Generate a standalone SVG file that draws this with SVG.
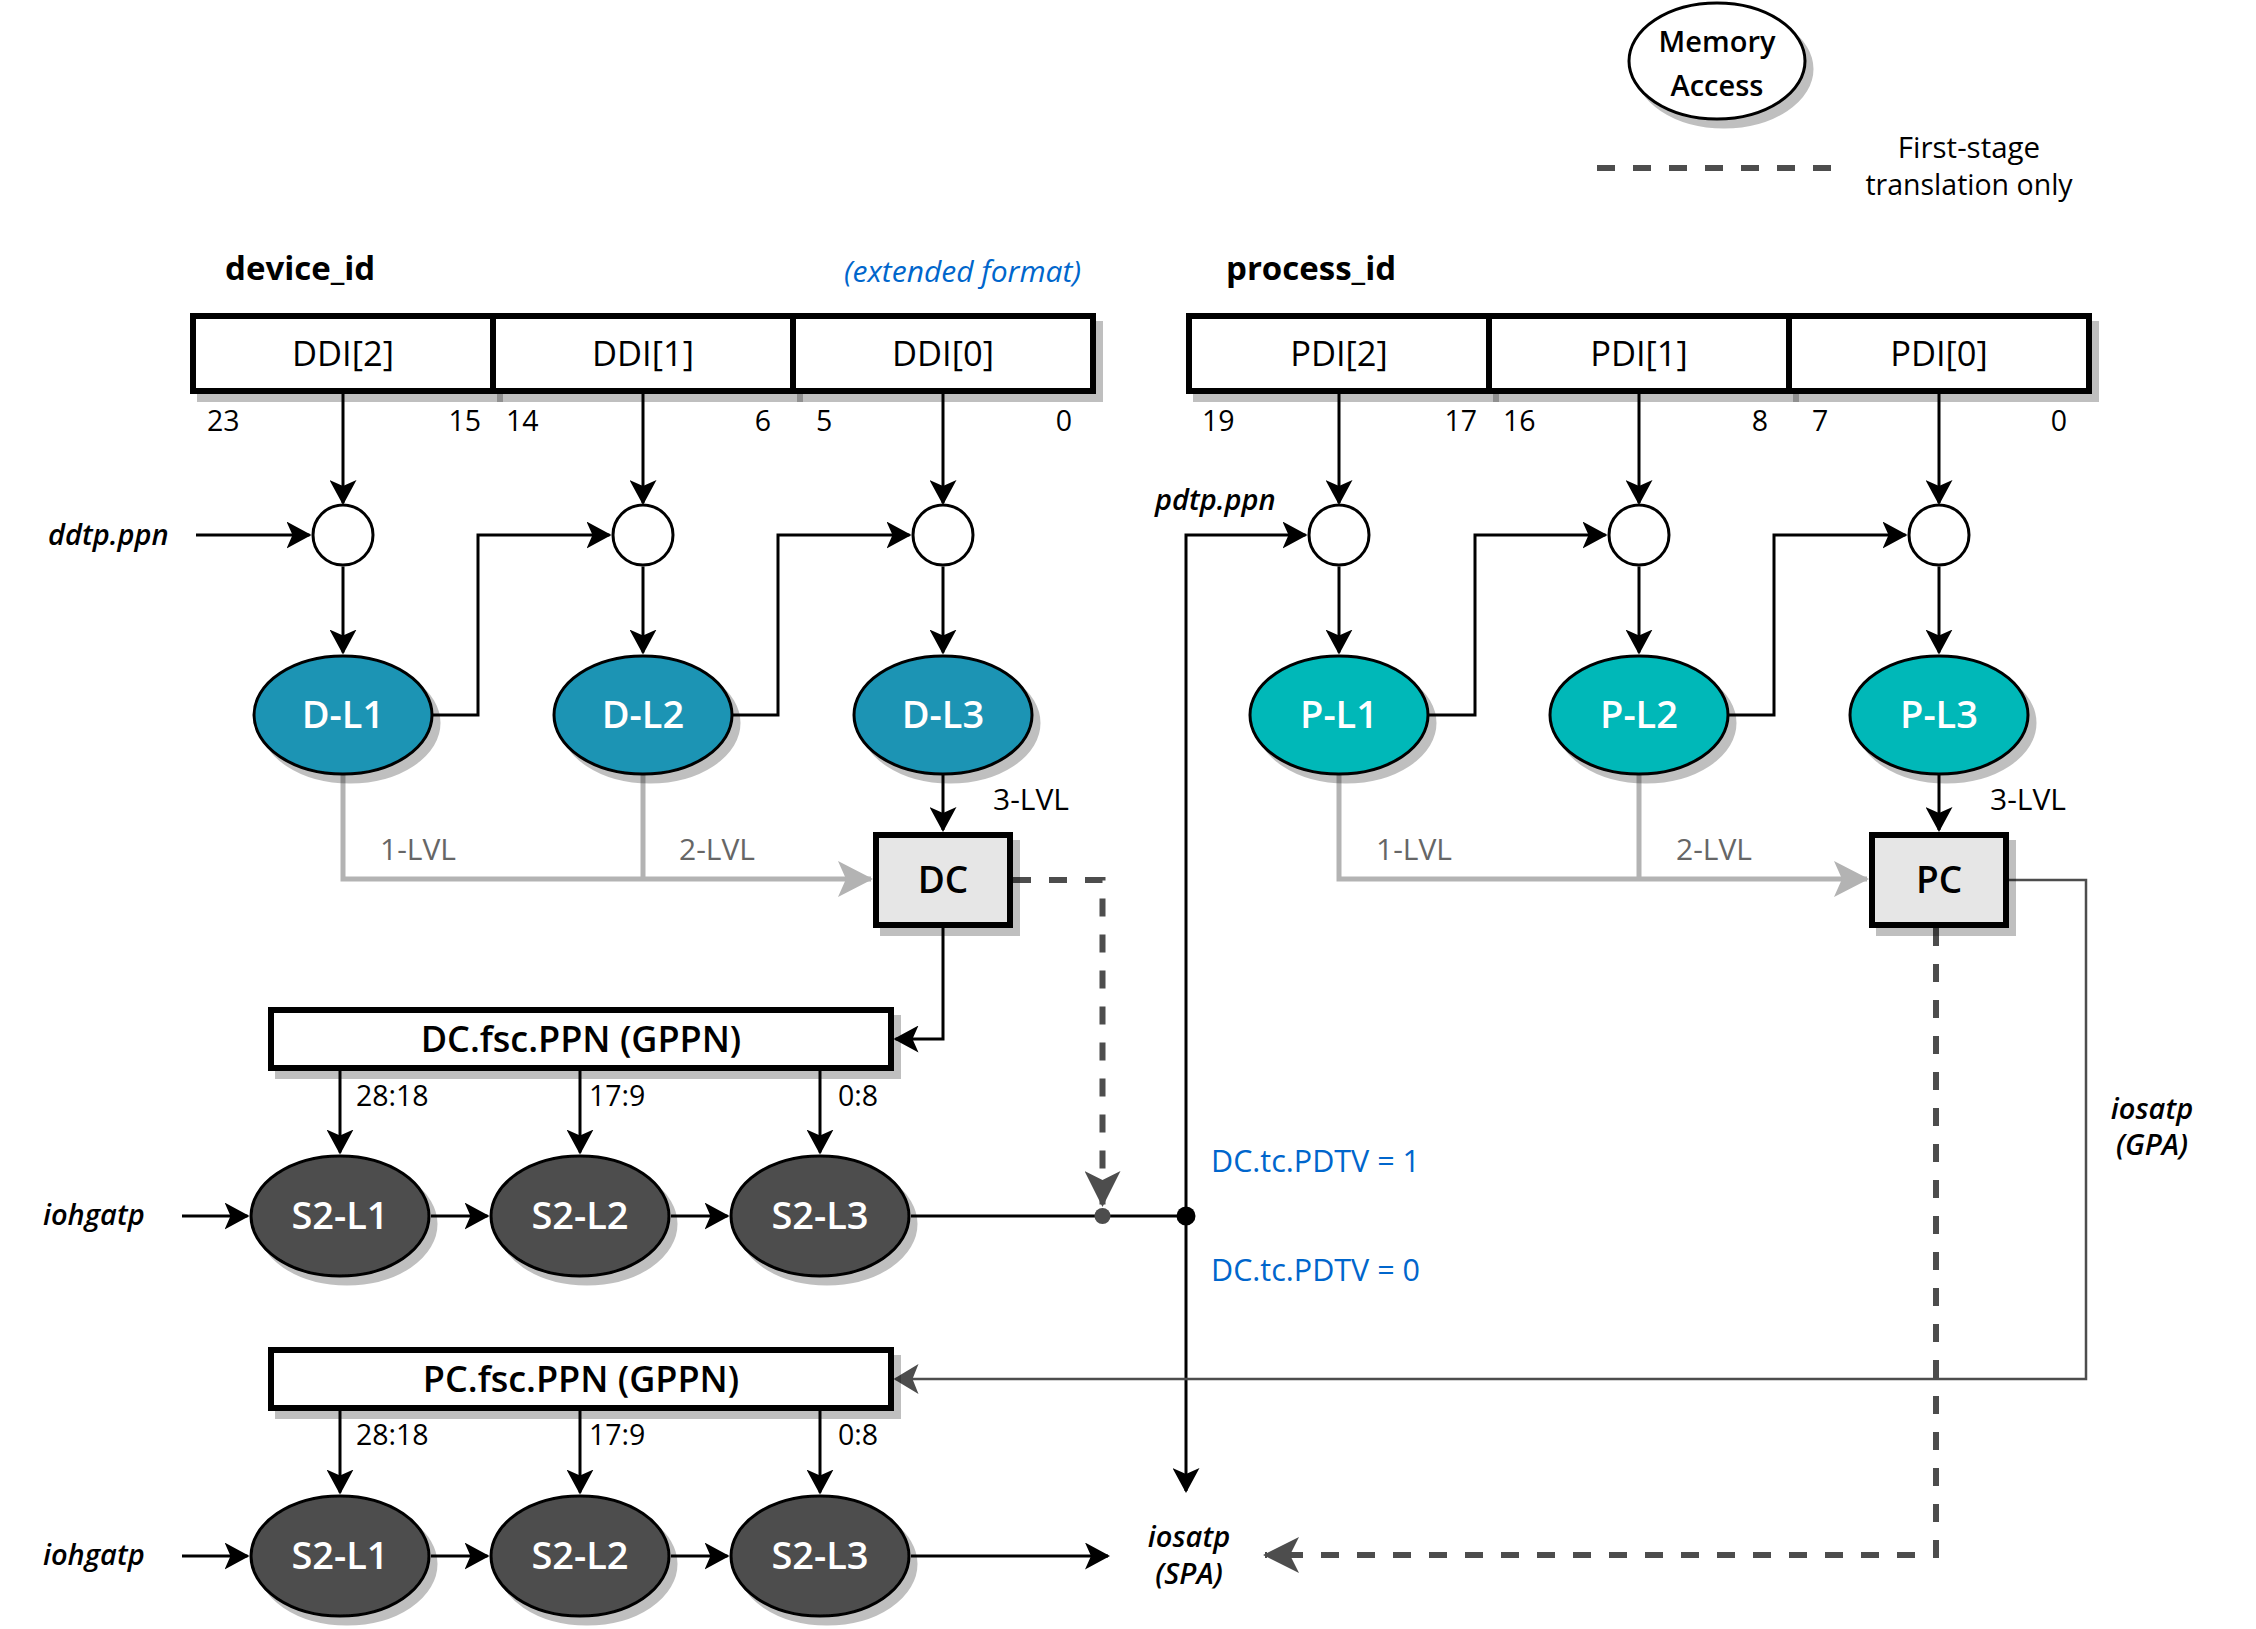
<svg xmlns="http://www.w3.org/2000/svg" width="2256" height="1629" viewBox="0 0 2256 1629">
<defs>
<style>
text{font-family:"Open Sans","Noto Sans","DejaVu Sans",sans-serif;fill:#000}
.lbl{font-size:34.5px}
.bit{font-size:28.5px}
.ttl{font-size:33px;font-weight:700}
.it{font-size:29px;font-style:italic;font-weight:600}
.gl{font-size:30px;fill:#666}
.blue{font-size:30.5px;fill:#0066CC}
.wt{font-size:38px;font-weight:600;fill:#fff}
.bx{fill:#fff;stroke:#000;stroke-width:6}
.cbox{fill:#E6E6E6;stroke:#000;stroke-width:6}
.circ{fill:#fff;stroke:#000;stroke-width:3}
.dl{fill:#1A94B4;stroke:#000;stroke-width:3}
.pl{fill:#02B8B8;stroke:#000;stroke-width:3}
.s2{fill:#4D4D4D;stroke:#000;stroke-width:3}
.ln{fill:none;stroke:#000;stroke-width:3}
.gln{fill:none;stroke:#B3B3B3;stroke-width:5}
.dln{fill:none;stroke:#4D4D4D;stroke-width:2.5}
.dsh{fill:none;stroke:#4D4D4D;stroke-width:6;stroke-dasharray:18 18}
</style>
<filter id="sh" x="-10%" y="-15%" width="130%" height="150%">
<feColorMatrix in="SourceAlpha" type="matrix" values="0 0 0 0 0  0 0 0 0 0  0 0 0 0 0  0 0 0 0.25 0"/>
<feOffset dx="7" dy="8" result="o"/>
<feMerge><feMergeNode in="o"/><feMergeNode in="SourceGraphic"/></feMerge>
</filter>
<marker id="ab" markerUnits="userSpaceOnUse" viewBox="0 0 25 27" markerWidth="25" markerHeight="27" refX="23" refY="13.5" orient="auto"><path d="M0,0 L25,13.5 L0,27 L6,13.5 Z" fill="#000"/></marker>
<marker id="ag" markerUnits="userSpaceOnUse" viewBox="0 0 35 36" markerWidth="35" markerHeight="36" refX="33" refY="18" orient="auto"><path d="M0,0 L35,18 L0,36 L8,18 Z" fill="#B3B3B3"/></marker>
<marker id="ad" markerUnits="userSpaceOnUse" viewBox="0 0 25 30" markerWidth="25" markerHeight="30" refX="23" refY="15" orient="auto"><path d="M0,0 L25,15 L0,30 L6,15 Z" fill="#4D4D4D"/></marker>
<marker id="adl" markerUnits="userSpaceOnUse" viewBox="0 0 36 36" markerWidth="36" markerHeight="36" refX="34" refY="18" orient="auto"><path d="M0,0 L36,18 L0,36 L9,18 Z" fill="#4D4D4D"/></marker>
</defs>
<rect width="2256" height="1629" fill="#fff"/>

<!-- Legend -->
<g id="legend">
<ellipse cx="1717" cy="61" rx="88" ry="58" fill="#fff" stroke="#000" stroke-width="3" filter="url(#sh)"/>
<text x="1717" y="52" text-anchor="middle" style="font-size:29px;font-weight:600">Memory</text>
<text x="1717" y="96" text-anchor="middle" style="font-size:29px;font-weight:600">Access</text>
<line x1="1597" y1="168" x2="1832" y2="168" class="dsh"/>
<text x="1969" y="158" text-anchor="middle" style="font-size:29.5px">First-stage</text>
<text x="1969" y="195" text-anchor="middle" style="font-size:28.5px">translation only</text>
</g>

<!-- Titles -->
<g id="titles">
<text x="225" y="280" class="ttl">device_id</text>
<text x="1081" y="282" text-anchor="end" style="font-size:30px;font-style:italic;fill:#0066CC">(extended format)</text>
<text x="1226" y="280" class="ttl">process_id</text>
</g>

<!-- Connectors -->
<g id="connectors">
<path d="M343,394 V503" class="ln" marker-end="url(#ab)"/>
<path d="M643,394 V503" class="ln" marker-end="url(#ab)"/>
<path d="M943,394 V503" class="ln" marker-end="url(#ab)"/>
<path d="M1339,394 V503" class="ln" marker-end="url(#ab)"/>
<path d="M1639,394 V503" class="ln" marker-end="url(#ab)"/>
<path d="M1939,394 V503" class="ln" marker-end="url(#ab)"/>
<path d="M196,535 H309.5" class="ln" marker-end="url(#ab)"/>
<path d="M343,566.5 V652.5" class="ln" marker-end="url(#ab)"/>
<path d="M643,566.5 V652.5" class="ln" marker-end="url(#ab)"/>
<path d="M943,566.5 V652.5" class="ln" marker-end="url(#ab)"/>
<path d="M1339,566.5 V652.5" class="ln" marker-end="url(#ab)"/>
<path d="M1639,566.5 V652.5" class="ln" marker-end="url(#ab)"/>
<path d="M1939,566.5 V652.5" class="ln" marker-end="url(#ab)"/>
<path d="M432,715 H478 V535 H609.5" class="ln" marker-end="url(#ab)"/>
<path d="M732,715 H778 V535 H909.5" class="ln" marker-end="url(#ab)"/>
<path d="M1428,715 H1475 V535 H1605.5" class="ln" marker-end="url(#ab)"/>
<path d="M1728,715 H1774 V535 H1905.5" class="ln" marker-end="url(#ab)"/>
<path d="M943,775 V830" class="ln" marker-end="url(#ab)"/>
<path d="M1939,775 V830" class="ln" marker-end="url(#ab)"/>
<path d="M343,775 V879 H871" class="gln" marker-end="url(#ag)"/>
<path d="M643,775 V879" class="gln"/>
<path d="M1339,775 V879 H1867" class="gln" marker-end="url(#ag)"/>
<path d="M1639,775 V879" class="gln"/>
<path d="M943,928 V1039 H895.5" class="ln" marker-end="url(#ab)"/>
<path d="M340,1071 V1152.5" class="ln" marker-end="url(#ab)"/>
<path d="M580,1071 V1152.5" class="ln" marker-end="url(#ab)"/>
<path d="M820,1071 V1152.5" class="ln" marker-end="url(#ab)"/>
<path d="M340,1411 V1492.5" class="ln" marker-end="url(#ab)"/>
<path d="M580,1411 V1492.5" class="ln" marker-end="url(#ab)"/>
<path d="M820,1411 V1492.5" class="ln" marker-end="url(#ab)"/>
<path d="M182,1216 H247.5" class="ln" marker-end="url(#ab)"/>
<path d="M431,1216 H487.5" class="ln" marker-end="url(#ab)"/>
<path d="M671,1216 H727.5" class="ln" marker-end="url(#ab)"/>
<path d="M182,1556 H247.5" class="ln" marker-end="url(#ab)"/>
<path d="M431,1556 H487.5" class="ln" marker-end="url(#ab)"/>
<path d="M671,1556 H727.5" class="ln" marker-end="url(#ab)"/>
<path d="M911,1556 H1108" class="ln" marker-end="url(#ab)"/>
<path d="M911,1216 H1186" class="ln"/>
<path d="M1186,1216 V535 H1305.5" class="ln" marker-end="url(#ab)"/>
<path d="M1186,1216 V1491" class="ln" marker-end="url(#ab)"/>
<circle cx="1186" cy="1216" r="9.5" fill="#000"/>
<path d="M1013,880 H1102.5 V1205" class="dsh" marker-end="url(#adl)"/>
<circle cx="1102.5" cy="1216" r="8" fill="#4D4D4D"/>
<path d="M2009,880 H2086 V1379 H895.5" class="dln" marker-end="url(#ad)"/>
<path d="M1936,928 V1555 H1265" class="dsh" marker-end="url(#adl)"/>
</g>

<g id="ddi">
<rect x="193" y="316" width="300" height="75" class="bx" filter="url(#sh)"/>
<rect x="493" y="316" width="300" height="75" class="bx" filter="url(#sh)"/>
<rect x="793" y="316" width="300" height="75" class="bx" filter="url(#sh)"/>
<text x="343" y="366" text-anchor="middle" class="lbl">DDI[2]</text>
<text x="643" y="366" text-anchor="middle" class="lbl">DDI[1]</text>
<text x="943" y="366" text-anchor="middle" class="lbl">DDI[0]</text>
<text x="207" y="431" class="bit">23</text>
<text x="481" y="431" text-anchor="end" class="bit">15</text>
<text x="506" y="431" class="bit">14</text>
<text x="771" y="431" text-anchor="end" class="bit">6</text>
<text x="816" y="431" class="bit">5</text>
<text x="1072" y="431" text-anchor="end" class="bit">0</text>
</g>

<g id="pdi">
<rect x="1189" y="316" width="300" height="75" class="bx" filter="url(#sh)"/>
<rect x="1489" y="316" width="300" height="75" class="bx" filter="url(#sh)"/>
<rect x="1789" y="316" width="300" height="75" class="bx" filter="url(#sh)"/>
<text x="1339" y="366" text-anchor="middle" class="lbl">PDI[2]</text>
<text x="1639" y="366" text-anchor="middle" class="lbl">PDI[1]</text>
<text x="1939" y="366" text-anchor="middle" class="lbl">PDI[0]</text>
<text x="1202" y="431" class="bit">19</text>
<text x="1477" y="431" text-anchor="end" class="bit">17</text>
<text x="1503" y="431" class="bit">16</text>
<text x="1768" y="431" text-anchor="end" class="bit">8</text>
<text x="1812" y="431" class="bit">7</text>
<text x="2067" y="431" text-anchor="end" class="bit">0</text>
</g>

<g id="inputs">
<text x="48" y="545" class="it">ddtp.ppn</text>
<text x="1155" y="510" class="it">pdtp.ppn</text>
<text x="43" y="1225" class="it">iohgatp</text>
<text x="43" y="1565" class="it">iohgatp</text>
<text x="1189" y="1547" text-anchor="middle" class="it">iosatp</text>
<text x="1189" y="1584" text-anchor="middle" class="it">(SPA)</text>
<text x="2152" y="1119" text-anchor="middle" class="it">iosatp</text>
<text x="2152" y="1155" text-anchor="middle" class="it">(GPA)</text>
</g>

<g id="adders">
<circle cx="343" cy="535" r="30" class="circ"/>
<circle cx="643" cy="535" r="30" class="circ"/>
<circle cx="943" cy="535" r="30" class="circ"/>
<circle cx="1339" cy="535" r="30" class="circ"/>
<circle cx="1639" cy="535" r="30" class="circ"/>
<circle cx="1939" cy="535" r="30" class="circ"/>
</g>

<g id="dlevels">
<ellipse cx="343" cy="715" rx="89" ry="59" class="dl" filter="url(#sh)"/>
<ellipse cx="643" cy="715" rx="89" ry="59" class="dl" filter="url(#sh)"/>
<ellipse cx="943" cy="715" rx="89" ry="59" class="dl" filter="url(#sh)"/>
<text x="343" y="728" text-anchor="middle" class="wt">D-L1</text>
<text x="643" y="728" text-anchor="middle" class="wt">D-L2</text>
<text x="943" y="728" text-anchor="middle" class="wt">D-L3</text>
</g>

<g id="plevels">
<ellipse cx="1339" cy="715" rx="89" ry="59" class="pl" filter="url(#sh)"/>
<ellipse cx="1639" cy="715" rx="89" ry="59" class="pl" filter="url(#sh)"/>
<ellipse cx="1939" cy="715" rx="89" ry="59" class="pl" filter="url(#sh)"/>
<text x="1339" y="728" text-anchor="middle" class="wt">P-L1</text>
<text x="1639" y="728" text-anchor="middle" class="wt">P-L2</text>
<text x="1939" y="728" text-anchor="middle" class="wt">P-L3</text>
</g>

<g id="lvl-labels">
<text x="993" y="810" style="font-size:30px">3-LVL</text>
<text x="1990" y="810" style="font-size:30px">3-LVL</text>
<text x="380" y="860" class="gl">1-LVL</text>
<text x="679" y="860" class="gl">2-LVL</text>
<text x="1376" y="860" class="gl">1-LVL</text>
<text x="1676" y="860" class="gl">2-LVL</text>
</g>

<g id="dc">
<rect x="876" y="835" width="134" height="90" class="cbox" filter="url(#sh)"/>
<text x="943" y="893" text-anchor="middle" style="font-size:37px;font-weight:600">DC</text>
</g>
<g id="pc">
<rect x="1872" y="835" width="134" height="90" class="cbox" filter="url(#sh)"/>
<text x="1939" y="893" text-anchor="middle" style="font-size:37px;font-weight:600">PC</text>
</g>

<g id="pdtv">
<text x="1211" y="1172" class="blue">DC.tc.PDTV = 1</text>
<text x="1211" y="1281" class="blue">DC.tc.PDTV = 0</text>
</g>

<g id="dcfsc">
<rect x="271" y="1010" width="620" height="58" class="bx" filter="url(#sh)"/>
<text x="581" y="1052" text-anchor="middle" style="font-size:36px;font-weight:600">DC.fsc.PPN (GPPN)</text>
<text x="356" y="1106" class="bit">28:18</text>
<text x="589" y="1106" class="bit">17:9</text>
<text x="838" y="1106" class="bit">0:8</text>
</g>

<g id="s2row1">
<ellipse cx="340" cy="1216" rx="89" ry="60" class="s2" filter="url(#sh)"/>
<ellipse cx="580" cy="1216" rx="89" ry="60" class="s2" filter="url(#sh)"/>
<ellipse cx="820" cy="1216" rx="89" ry="60" class="s2" filter="url(#sh)"/>
<text x="340" y="1229" text-anchor="middle" class="wt">S2-L1</text>
<text x="580" y="1229" text-anchor="middle" class="wt">S2-L2</text>
<text x="820" y="1229" text-anchor="middle" class="wt">S2-L3</text>
</g>

<g id="pcfsc">
<rect x="271" y="1350" width="620" height="58" class="bx" filter="url(#sh)"/>
<text x="581" y="1392" text-anchor="middle" style="font-size:36px;font-weight:600">PC.fsc.PPN (GPPN)</text>
<text x="356" y="1445" class="bit">28:18</text>
<text x="589" y="1445" class="bit">17:9</text>
<text x="838" y="1445" class="bit">0:8</text>
</g>

<g id="s2row2">
<ellipse cx="340" cy="1556" rx="89" ry="60" class="s2" filter="url(#sh)"/>
<ellipse cx="580" cy="1556" rx="89" ry="60" class="s2" filter="url(#sh)"/>
<ellipse cx="820" cy="1556" rx="89" ry="60" class="s2" filter="url(#sh)"/>
<text x="340" y="1569" text-anchor="middle" class="wt">S2-L1</text>
<text x="580" y="1569" text-anchor="middle" class="wt">S2-L2</text>
<text x="820" y="1569" text-anchor="middle" class="wt">S2-L3</text>
</g>
</svg>
